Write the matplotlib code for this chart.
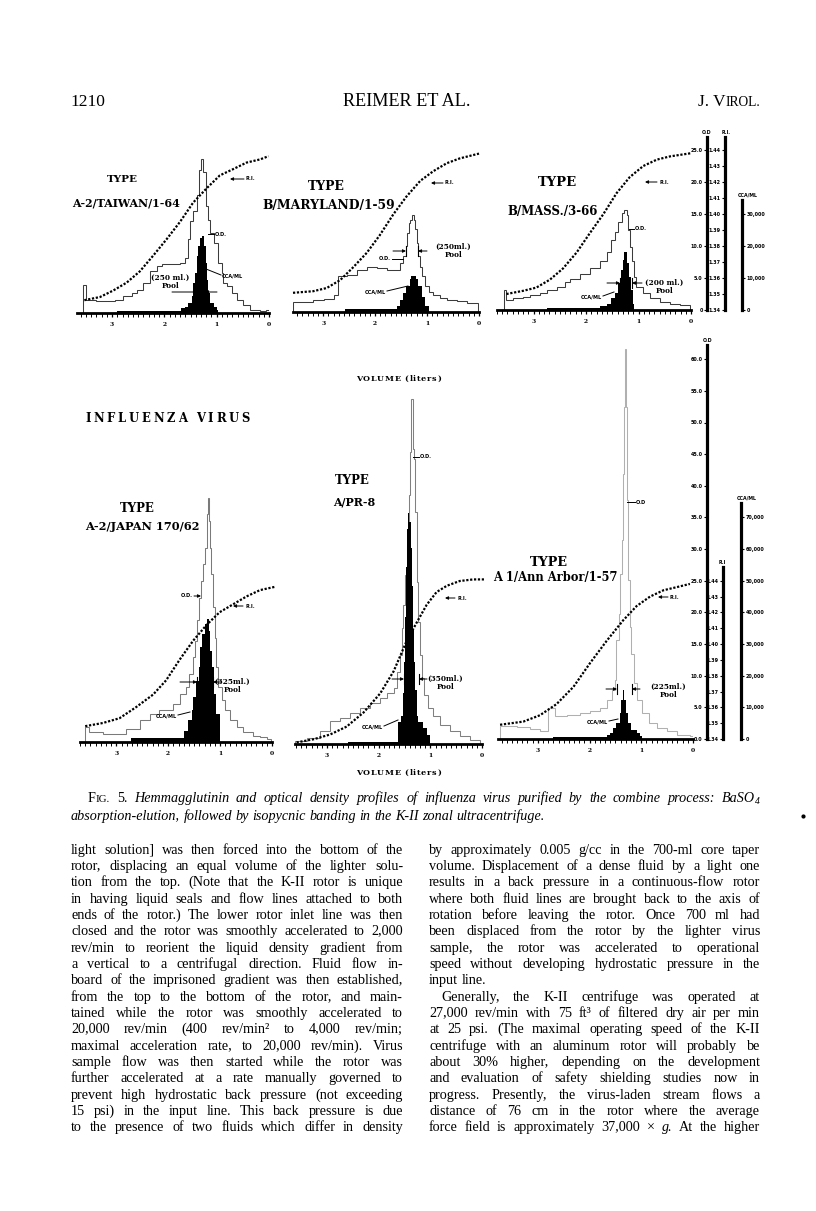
import numpy as np
import matplotlib
matplotlib.use("Agg")
import matplotlib.pyplot as plt
from matplotlib.ticker import MultipleLocator, FixedLocator
from matplotlib.font_manager import FontProperties
from matplotlib.lines import Line2D
from matplotlib.patches import FancyArrowPatch

# ---------------------------------------------------------------- data
# volumes in liters, O.D. in O.D. units, hemagglutinin in CCA/ml, R.I. refractive index
vol_ticks = [3, 2, 1, 0]
vol_tick_labels = ["3", "2", "1", "0"]

# Panel 1  A-2/TAIWAN/1-64
p1_od_edges = [3.56, 3.50, 3.30, 3.10, 2.94, 2.79, 2.62, 2.53, 2.40, 2.28, 2.15, 2.05, 1.70, 1.61,
               1.54, 1.51, 1.45, 1.38, 1.33, 1.30, 1.26, 1.21, 1.16, 1.13, 1.06, 0.97, 0.90, 0.87,
               0.81, 0.71, 0.62, 0.49, 0.36, 0.17, 0.06, 0.0]
p1_od = [4.3, 2.0, 1.9, 1.8, 2.1, 2.6, 3.2, 3.6, 4.7, 6.5, 7.3, 7.6, 7.8, 8.6, 11.5, 14.3, 15.9,
         18.5, 22.4, 24.0, 22.0, 16.7, 14.6, 12.5, 10.9, 7.8, 6.3, 4.7, 4.2, 3.1, 2.1, 1.3, 0.5,
         0.3, 0.5]
p1_cca_edges = [2.90, 1.69, 1.61, 1.54, 1.48, 1.45, 1.41, 1.38, 1.35, 1.32, 1.29, 1.24, 1.21,
                1.19, 1.16, 1.13, 1.06, 1.00, 0.97]
p1_cca = [600, 1600, 2000, 3200, 5200, 9400, 12600, 17800, 20800, 23400, 24000, 20800, 15600,
          10400, 6200, 3200, 2000, 1000]
p1_ri_vol = [3.53, 3.23, 2.98, 2.72, 2.47, 2.21, 1.96, 1.70, 1.45, 1.19, 0.94, 0.68, 0.43, 0.17, 0.01]
p1_ri = [1.348, 1.350, 1.354, 1.359, 1.366, 1.376, 1.386, 1.397, 1.409, 1.418, 1.426, 1.430,
         1.434, 1.436, 1.438]

# Panel 2  B/MARYLAND/1-59
p2_od_edges = [3.58, 3.19, 2.99, 2.80, 2.71, 2.54, 2.35, 2.16, 1.97, 1.78, 1.58, 1.52, 1.46, 1.40,
               1.38, 1.35, 1.33, 1.29, 1.26, 1.23, 1.20, 1.17, 1.13, 1.10, 1.04, 0.97, 0.88, 0.75,
               0.62, 0.43, 0.24, 0.01]
p2_od = [1.5, 1.9, 2.0, 2.7, 5.6, 5.8, 6.6, 7.1, 6.9, 6.6, 6.6, 7.7, 8.7, 10.3, 12.3, 13.9, 14.4,
         15.2, 14.4, 12.9, 10.8, 8.7, 7.1, 5.6, 4.0, 3.2, 2.7, 2.2, 1.9, 1.7, 1.4]
p2_cca_edges = [2.57, 1.58, 1.52, 1.46, 1.40, 1.33, 1.31, 1.26, 1.21, 1.17, 1.10, 1.04, 0.97]
p2_cca = [800, 1800, 3800, 6000, 8000, 10200, 11200, 11400, 10200, 8000, 4800, 1800]
p2_ri_vol = [3.58, 3.19, 2.93, 2.67, 2.42, 2.16, 1.91, 1.65, 1.40, 1.13, 0.88, 0.62, 0.37, 0.0]
p2_ri = [1.352, 1.353, 1.355, 1.360, 1.368, 1.377, 1.388, 1.401, 1.412, 1.422, 1.428, 1.433,
         1.436, 1.439]

# Panel 3  B/MASS./3-66
p3_od_edges = [3.57, 3.52, 3.39, 3.20, 3.07, 2.88, 2.75, 2.56, 2.40, 2.31, 2.12, 1.93, 1.74, 1.61,
               1.52, 1.45, 1.39, 1.32, 1.28, 1.23, 1.20, 1.17, 1.13, 1.09, 1.04, 0.91, 0.78, 0.59,
               0.40, 0.21, 0.02]
p3_od = [3.2, 1.6, 1.8, 2.1, 2.3, 2.6, 3.1, 3.6, 4.4, 4.9, 5.7, 6.5, 7.6, 9.1, 10.9, 12.2, 13.8,
         15.1, 15.7, 14.8, 12.5, 9.9, 7.6, 5.2, 3.6, 2.6, 1.8, 1.3, 1.0, 0.8]
p3_cca_edges = [2.75, 1.74, 1.61, 1.52, 1.45, 1.39, 1.34, 1.30, 1.27, 1.23, 1.18, 1.15, 1.11, 1.09]
p3_cca = [600, 1200, 2000, 3600, 5200, 8400, 12600, 15600, 18200, 14600, 10400, 6200, 2000]
p3_ri_vol = [3.52, 3.20, 2.95, 2.69, 2.44, 2.18, 1.93, 1.67, 1.42, 1.17, 0.91, 0.65, 0.40, 0.0]
p3_ri = [1.350, 1.352, 1.354, 1.359, 1.366, 1.376, 1.388, 1.400, 1.413, 1.423, 1.430, 1.434,
         1.436, 1.438]

# Panel 4  A-2/JAPAN 170/62
p4_od_edges = [3.60, 3.52, 3.26, 3.00, 2.81, 2.55, 2.36, 2.17, 1.91, 1.78, 1.65, 1.59, 1.52, 1.49,
               1.44, 1.40, 1.36, 1.33, 1.30, 1.26, 1.25, 1.23, 1.21, 1.19, 1.17, 1.14, 1.10, 1.07,
               1.04, 0.97, 0.91, 0.81, 0.68, 0.55, 0.36, 0.23, 0.10, 0.02]
p4_od = [2.4, 1.6, 1.3, 1.2, 2.1, 3.4, 4.5, 5.0, 6.0, 7.6, 8.7, 10.8, 13.4, 16.0, 19.2, 22.8, 25.5,
         28.1, 30.7, 33.3, 36.0, 38.6, 34.9, 30.7, 26.5, 21.3, 16.5, 11.8, 8.7, 6.6, 5.0, 3.4,
         2.4, 1.6, 1.0, 0.8, 0.5]
p4_cca_edges = [2.71, 1.70, 1.62, 1.55, 1.52, 1.47, 1.40, 1.38, 1.34, 1.30, 1.26, 1.21, 1.19, 1.15,
                1.12, 1.07, 1.01, 1.00]
p4_cca = [1200, 3600, 6800, 10000, 14200, 19400, 23600, 30000, 34200, 37200, 38800, 35200, 28800,
          23600, 15200, 9000, 2600]
p4_ri_vol = [3.60, 3.26, 2.94, 2.62, 2.29, 2.04, 1.78, 1.52, 1.26, 1.01, 0.75, 0.49, 0.23, -0.05]
p4_ri = [1.350, 1.352, 1.355, 1.362, 1.370, 1.379, 1.392, 1.404, 1.414, 1.422, 1.427, 1.432,
         1.436, 1.438]

# Panel 5  A/PR-8
p5_od_edges = [3.62, 3.39, 3.13, 2.94, 2.75, 2.55, 2.36, 2.16, 1.97, 1.84, 1.71, 1.65, 1.59, 1.55,
               1.52, 1.49, 1.46, 1.42, 1.39, 1.37, 1.34, 1.31, 1.30, 1.26, 1.23, 1.20, 1.17, 1.12,
               1.04, 0.94, 0.81, 0.62, 0.43, 0.23, 0.04]
p5_od = [0.4, 0.9, 2.0, 3.6, 4.1, 4.9, 5.7, 6.5, 7.2, 8.0, 8.8, 11.4, 14.1, 18.3, 21.9, 26.7, 31.4,
         39.3, 46.1, 54.5, 46.6, 45.0, 36.6, 25.6, 19.3, 14.1, 10.4, 7.8, 5.7, 4.4, 3.0, 2.0, 1.2,
         0.7]
p5_cca_edges = [2.60, 1.63, 1.57, 1.53, 1.51, 1.49, 1.47, 1.45, 1.43, 1.41, 1.38, 1.35, 1.33, 1.31,
                1.29, 1.26, 1.23, 1.14, 1.07, 1.01]
p5_cca = [600, 7000, 9000, 16000, 26000, 40000, 56000, 68000, 73000, 70000, 62000, 50000, 36000,
          26000, 17000, 9000, 7000, 5000, 3000]
p5_ri_vol = [3.59, 3.26, 2.94, 2.62, 2.29, 1.97, 1.71, 1.46, 1.26, 1.07, 0.88, 0.68, 0.43, 0.17, -0.06]
p5_ri = [1.341, 1.343, 1.346, 1.351, 1.360, 1.372, 1.386, 1.405, 1.417, 1.428, 1.436, 1.440,
         1.443, 1.444, 1.444]

# Panel 6  A 1/Ann Arbor/1-57
p6_od_edges = [3.73, 3.41, 3.15, 2.96, 2.80, 2.67, 2.44, 2.19, 1.99, 1.80, 1.67, 1.57, 1.51, 1.48,
               1.44, 1.41, 1.38, 1.36, 1.33, 1.31, 1.29, 1.28, 1.25, 1.22, 1.19, 1.15, 1.09, 0.99,
               0.86, 0.70, 0.51, 0.31, 0.06, 0.0]
p6_od = [2.0, 1.9, 1.6, 1.2, 4.9, 3.6, 3.8, 4.1, 4.4, 4.9, 6.2, 7.8, 9.3, 15.6, 19.8, 26.1, 31.4,
         41.9, 52.4, 61.6, 52.4, 37.7, 25.1, 17.7, 13.5, 8.8, 6.2, 4.1, 2.5, 1.7, 1.2, 0.7, 0.4]
p6_cca_edges = [2.70, 1.67, 1.61, 1.54, 1.48, 1.42, 1.39, 1.36, 1.33, 1.29, 1.26, 1.19, 1.09, 1.03, 0.99]
p6_cca = [600, 1400, 2000, 3400, 5000, 8200, 12400, 15600, 12400, 8200, 5000, 3000, 1800, 1000]
p6_ri_vol = [3.73, 3.28, 2.96, 2.64, 2.31, 1.99, 1.67, 1.35, 1.09, 0.83, 0.57, 0.31, 0.06]
p6_ri = [1.349, 1.351, 1.355, 1.362, 1.373, 1.388, 1.402, 1.415, 1.424, 1.430, 1.434, 1.436, 1.438]

panel_titles = ["A-2/TAIWAN/1-64", "B/MARYLAND/1-59", "B/MASS./3-66",
                "A-2/JAPAN 170/62", "A/PR-8", "A 1/Ann Arbor/1-57"]
pool_labels = ["250 ml.", "250ml.", "200 ml.", "325ml.", "350ml.", "225ml."]

# right-hand scales
top_od_ticks = [0, 5, 10, 15, 20, 25]
top_od_labels = ["0", "5.0", "10.0", "15.0", "20.0", "25.0"]
bot_od_ticks = [0, 5, 10, 15, 20, 25, 30, 35, 40, 45, 50, 55, 60]
bot_od_labels = ["0.0", "5.0", "10.0", "15.0", "20.0", "25.0", "30.0", "35.0", "40.0", "45.0",
                 "50.0", "55.0", "60.0"]
ri_ticks = [1.34, 1.35, 1.36, 1.37, 1.38, 1.39, 1.40, 1.41, 1.42, 1.43, 1.44]
ri_labels = ["1.34", "1.35", "1.36", "1.37", "1.38", "1.39", "1.40", "1.41", "1.42", "1.43", "1.44"]
top_cca_ticks = [0, 10000, 20000, 30000]
top_cca_labels = ["0", "10,000", "20,000", "30,000"]
bot_cca_ticks = [0, 10000, 20000, 30000, 40000, 50000, 60000, 70000]
bot_cca_labels = ["0", "10,000", "20,000", "30,000", "40,000", "50,000", "60,000", "70,000"]

# common vertical scale: 1 O.D. unit == 0.004 R.I. == 2000 CCA/ml
RI_PER_OD = 0.004
CCA_PER_OD = 2000.0
RI_BASE = 1.34

# ---------------------------------------------------------------- page text
header_left, header_mid, header_right = "1210", "REIMER ET AL.", "J. VIROL."

left_col = [
    "light solution] was then forced into the bottom of the",
    "rotor, displacing an equal volume of the lighter solu-",
    "tion from the top. (Note that the K-II rotor is unique",
    "in having liquid seals and flow lines attached to both",
    "ends of the rotor.) The lower rotor inlet line was then",
    "closed and the rotor was smoothly accelerated to 2,000",
    "rev/min to reorient the liquid density gradient from",
    "a vertical to a centrifugal direction. Fluid flow in-",
    "board of the imprisoned gradient was then established,",
    "from the top to the bottom of the rotor, and main-",
    "tained while the rotor was smoothly accelerated to",
    "20,000 rev/min (400 rev/min\u00b2 to 4,000 rev/min;",
    "maximal acceleration rate, to 20,000 rev/min). Virus",
    "sample flow was then started while the rotor was",
    "further accelerated at a rate manually governed to",
    "prevent high hydrostatic back pressure (not exceeding",
    "15 psi) in the input line. This back pressure is due",
    "to the presence of two fluids which differ in density",
]
right_col = [
    "by approximately 0.005 g/cc in the 700-ml core taper",
    "volume. Displacement of a dense fluid by a light one",
    "results in a back pressure in a continuous-flow rotor",
    "where both fluid lines are brought back to the axis of",
    "rotation before leaving the rotor. Once 700 ml had",
    "been displaced from the rotor by the lighter virus",
    "sample, the rotor was accelerated to operational",
    "speed without developing hydrostatic pressure in the",
    "input line.",
    "Generally, the K-II centrifuge was operated at",
    "27,000 rev/min with 75 ft\u00b3 of filtered dry air per min",
    "at 25 psi. (The maximal operating speed of the K-II",
    "centrifuge with an aluminum rotor will probably be",
    "about 30% higher, depending on the development",
    "and evaluation of safety shielding studies now in",
    "progress. Presently, the virus-laden stream flows a",
    "distance of 76 cm in the rotor where the average",
    "force field is approximately 37,000 \u00d7 ~g. At the higher",
]
caption_1 = "FIG. ^5. Hemmagglutinin and optical density profiles of influenza virus purified by the combine process: BaSO4"
caption_2 = "absorption-elution, followed by isopycnic banding in the K-II zonal ultracentrifuge."

# ---------------------------------------------------------------- figure
W, H = 816, 1211
fig = plt.figure(figsize=(W / 100, H / 100), dpi=100)
fig.patch.set_facecolor("white")
renderer = fig.canvas.get_renderer()

SERIF = "Liberation Serif"
SLAB = "DejaVu Serif"
SANS = "DejaVu Sans"


def fx(x):
    return x / W


def fy(y):
    return 1 - y / H


def metrics(s, size, style="normal", family=SERIF, weight="normal"):
    fp = FontProperties(family=family, size=size, style=style, weight=weight)
    return renderer.get_text_width_height_descent(s, fp, ismath=False)


def tw(s, size, style="normal", family=SERIF, weight="normal"):
    return metrics(s, size, style, family, weight)[0]


def put_baseline(x, ybase, s, size, style="normal", family=SERIF, weight="normal"):
    """Place text so that its baseline falls exactly on pixel row ybase (from top)."""
    w, h, d = metrics(s, size, style, family, weight)
    T = round(ybase)
    yb = T + np.floor(h + 1e-9) - np.floor(h - d + 1e-9) - d
    fig.text(fx(x), fy(yb), s, fontsize=size, family=family, style=style, weight=weight,
             ha="left", va="baseline", color="black")


def segs(tok, style):
    if tok == "FIG.":
        return [("F", 1.0, 0, "normal"), ("IG.", 0.78, 0, "normal")]
    if tok == "BaSO4":
        return [("BaSO", 1.0, 0, style), ("4", 0.68, -2.5, style)]
    if tok.startswith("^"):
        return [(tok[1:], 1.0, 0, "normal")]
    if tok.startswith("~"):
        return [(tok[1:], 1.0, 0, "italic")]
    return [(tok, 1.0, 0, style)]


def word_width(tok, size, style):
    return sum(tw(t, size * f, st) for t, f, dy, st in segs(tok, style))


def natural_width(line, size, style):
    words = line.split(" ")
    sp = tw("a a", size, style) - tw("aa", size, style)
    return sum(word_width(w, size, style) for w in words) + sp * (len(words) - 1)


def draw_line(line, x0, x1, ybase, size, style, justify=True):
    words = line.split(" ")
    widths = [word_width(w, size, style) for w in words]
    sp = tw("a a", size, style) - tw("aa", size, style)
    if justify and len(words) > 1:
        gap = (x1 - x0 - sum(widths)) / (len(words) - 1)
    else:
        gap = sp
    x = x0
    for w, wd in zip(words, widths):
        xx = x
        for t, f, dy, st in segs(w, style):
            put_baseline(xx, ybase - dy, t, size * f, st)
            xx += tw(t, size * f, st)
        x += wd + gap


def fit_text(x0, x1, y, s, family=SLAB, weight="bold", style="normal", va="center"):
    w10 = tw(s, 10, style, family, weight)
    size = 10 * (x1 - x0) / w10
    fig.text(fx(x0), fy(y), s, fontsize=size, family=family, weight=weight, style=style,
             ha="left", va=va, color="black")
    return size


def spaced_text(x0, x1, y, s, size, family=SLAB, weight="bold"):
    spw = tw("a a", size, "normal", family, weight) - tw("aa", size, "normal", family, weight)
    ws = [tw(c, size, "normal", family, weight) if c != " " else spw for c in s]
    extra = (x1 - x0 - sum(ws)) / (len(s) - 1)
    x = x0
    for c, w in zip(s, ws):
        if c != " ":
            fig.text(fx(x), fy(y), c, fontsize=size, family=family, weight=weight,
                     ha="left", va="baseline", color="black")
        x += w + extra


def small(x, y, s, ha="left", size=3.6):
    fig.text(fx(x), fy(y), s, fontsize=size, family=SANS, weight="bold", ha=ha, va="center",
             color="black")


def seg_line(x0, y0, x1, y1, lw=0.7):
    fig.add_artist(Line2D([fx(x0), fx(x1)], [fy(y0), fy(y1)], lw=lw, color="black",
                          transform=fig.transFigure))


def arrow(x0, y0, x1, y1):
    fig.add_artist(FancyArrowPatch((fx(x0), fy(y0)), (fx(x1), fy(y1)), transform=fig.transFigure,
                                   arrowstyle="-|>", mutation_scale=4.5, lw=0.7, color="black",
                                   shrinkA=0, shrinkB=0))


# ---------------------------------------------------------------- panels
# geometry: x of left end, x of 0 liters, y of axis line, px per O.D. unit, max volume, top (O.D.)
geoms = [
    (77, 269, 313, 6.40, 3.67, 28),
    (293, 479, 312, 6.40, 3.58, 28),
    (497, 691, 310, 6.40, 3.70, 28),
    (80, 272, 742, 6.33, 3.70, 66),
    (295, 482, 744, 6.33, 3.62, 66),
    (498, 693, 739, 6.33, 3.77, 66),
]
series = [
    (p1_od_edges, p1_od, p1_cca_edges, p1_cca, p1_ri_vol, p1_ri),
    (p2_od_edges, p2_od, p2_cca_edges, p2_cca, p2_ri_vol, p2_ri),
    (p3_od_edges, p3_od, p3_cca_edges, p3_cca, p3_ri_vol, p3_ri),
    (p4_od_edges, p4_od, p4_cca_edges, p4_cca, p4_ri_vol, p4_ri),
    (p5_od_edges, p5_od, p5_cca_edges, p5_cca, p5_ri_vol, p5_ri),
    (p6_od_edges, p6_od, p6_cca_edges, p6_cca, p6_ri_vol, p6_ri),
]
od_colors = ["#3c3c3c", "#3c3c3c", "#3c3c3c", "#7a7a7a", "#808080", "#b0b0b0"]

for (xl, x0, ya, ppu, xmax, ytop), (ode, odv, cce, ccv, rix, riy), odc in zip(geoms, series, od_colors):
    ax = fig.add_axes([fx(xl), fy(ya), (x0 - xl) / W, ytop * ppu / H])
    ax.patch.set_alpha(0)
    ax.set_xlim(xmax, 0)
    ax.set_ylim(0, ytop)
    for s in ["top", "right", "left"]:
        ax.spines[s].set_visible(False)
    ax.spines["bottom"].set_linewidth(2.0)
    ax.set_yticks([])
    ax.xaxis.set_major_locator(FixedLocator(vol_ticks))
    ax.set_xticklabels(vol_tick_labels)
    ax.xaxis.set_minor_locator(MultipleLocator(0.1))
    ax.tick_params(axis="x", which="major", length=3.2, width=0.9, pad=3.2, labelsize=4.3)
    ax.tick_params(axis="x", which="minor", length=2.6, width=0.7)
    for lab in ax.get_xticklabels():
        lab.set_fontweight("bold")
        lab.set_family(SLAB)
    axc = ax.twinx()
    axc.set_ylim(0, ytop * CCA_PER_OD)
    axc.axis("off")
    axr = ax.twinx()
    axr.set_ylim(RI_BASE, RI_BASE + ytop * RI_PER_OD)
    axr.axis("off")
    ax.stairs(odv, ode, baseline=0, fill=False, color=odc, lw=0.75, zorder=2)
    axc.stairs(ccv, cce, baseline=0, fill=True, color="black", lw=0, zorder=3)
    axr.plot(rix, riy, color="black", lw=1.6, linestyle=(0, (1.0, 0.75)),
             dash_capstyle="butt", clip_on=False, zorder=4)


# ---------------------------------------------------------------- right-hand scales
def scale_axis(x, y0, ytop_px, ppu, lo, per_od, ticks, labels, side, title, tx, ty):
    span = (y0 - ytop_px) / ppu
    a = fig.add_axes([fx(x), fy(y0), 0.3 / W, (y0 - ytop_px) / H])
    a.patch.set_alpha(0)
    a.set_ylim(lo, lo + span * per_od)
    for s in a.spines.values():
        s.set_visible(False)
    a.spines["left"].set_visible(True)
    a.spines["left"].set_linewidth(2.3)
    a.set_xticks([])
    a.set_yticks(ticks)
    a.set_yticklabels(labels)
    if side == "left":
        a.tick_params(axis="y", left=True, right=False, labelleft=True, labelright=False,
                      length=2.5, width=0.8, pad=0.6, labelsize=3.5)
    else:
        a.tick_params(axis="y", left=False, right=True, labelleft=False, labelright=True,
                      length=2.5, width=0.8, pad=0.6, labelsize=3.5)
    for lab in a.get_yticklabels():
        lab.set_fontweight("bold")
        lab.set_family(SANS)
    small(tx, ty, title, ha="center", size=3.4)


scale_axis(707, 310, 137, 6.40, 0, 1.0, top_od_ticks, top_od_labels, "left", "O.D", 707, 132)
scale_axis(725, 310, 137, 6.40, RI_BASE, RI_PER_OD, ri_ticks, ri_labels, "left", "R.I.", 726, 132)
scale_axis(742, 310, 200, 6.40, 0, CCA_PER_OD, top_cca_ticks, top_cca_labels, "right", "CCA/ML", 748, 195)
scale_axis(707, 739, 345, 6.33, 0, 1.0, bot_od_ticks, bot_od_labels, "left", "O.D", 708, 341)
scale_axis(723, 739, 567, 6.33, RI_BASE, RI_PER_OD, ri_ticks, ri_labels, "left", "R.I", 722, 562)
scale_axis(741, 739, 503, 6.33, 0, CCA_PER_OD, bot_cca_ticks, bot_cca_labels, "right", "CCA/ML", 747, 498)

# ---------------------------------------------------------------- panel labels
type_pos = [(107, 138, 180), (308, 345, 187), (538, 577, 182),
            (120, 155, 508), (335, 370, 481), (530, 568, 562)]
title_pos = [(72, 180, 203), (262, 395, 205), (507, 598, 212),
             (85, 200, 526), (333, 375, 502), (493, 618, 578)]
for (a, b, y) in type_pos:
    fit_text(a, b, y, "TYPE")
for (a, b, y), t in zip(title_pos, panel_titles):
    fit_text(a, b, y, t)

# R.I. arrows (head, tail, label x, y)
for hx, tx_, lx, y in [(230, 244, 246, 179), (431, 443, 445, 183), (645, 657, 659, 182),
                        (233, 243, 245, 606), (445, 455, 457, 598), (658, 668, 670, 597)]:
    arrow(tx_, y, hx, y)
    small(lx, y, "R.I.")

# O.D. leaders
seg_line(208, 234, 214, 234); small(215, 234, "O.D.")
seg_line(392, 259, 403, 259); small(391, 259, "O.D.", ha="right")
seg_line(629, 229, 634, 229); small(635, 229, "O.D.")
arrow(194, 596, 201, 596); small(193, 596, "O.D.", ha="right")
seg_line(413, 457, 419, 457); small(420, 457, "O.D.")
seg_line(627, 502, 635, 502); small(636, 502, "O.D")

# CCA/ml leaders
seg_line(206, 269, 221, 275); small(222, 276, "CCA/ML")
seg_line(387, 291, 408, 286); small(386, 292, "CCA/ML", ha="right")
seg_line(603, 296, 614, 292); small(602, 297, "CCA/ML", ha="right")
seg_line(178, 715, 190, 712); small(177, 716, "CCA/ML", ha="right")
seg_line(384, 726, 398, 720); small(383, 727, "CCA/ML", ha="right")
seg_line(609, 721, 618, 719); small(608, 722, "CCA/ML", ha="right")

# pooled fractions: (text centre x, text y, arrow y, left arrow from, left bar, right bar, right arrow from)
pools = [(170, 278, 292, 172, 197, 205, 217),
         (453, 247, 251, 393, 406, 418, 427),
         (664, 283, 283, 607, 620, 632, 642),
         (232, 682, 682, 180, 197, 213, 221),
         (445, 679, 679, 392, 404, 419, 427),
         (668, 687, 689, 606, 617, 632, 640)]
for i, ((cx, ty, ay, la, lb, rb, ra), lab) in enumerate(zip(pools, pool_labels)):
    fig.text(fx(cx), fy(ty), "(" + lab + ")", fontsize=5.3, family=SLAB, weight="bold",
             ha="center", va="center")
    fig.text(fx(cx + 1), fy(ty + 8), "Pool", fontsize=5.3, family=SLAB, weight="bold",
             ha="center", va="center")
    arrow(la, ay, lb, ay)
    arrow(ra, ay, rb, ay)
    if i > 0:
        seg_line(lb, ay - 5, lb, ay + 5, lw=0.8)
        seg_line(rb, ay - 5, rb, ay + 5, lw=0.8)

# axis titles
spaced_text(356, 441, 381, "VOLUME (liters)", 5.8)
spaced_text(356, 441, 775, "VOLUME (liters)", 5.8)
spaced_text(85, 250, 422, "INFLUENZA VIRUS", 8.4)

# ---------------------------------------------------------------- running head
hs = 12.5
put_baseline(70, 106, header_left, hs)
mid_size = 10 * (471 - 343) / tw(header_mid, 10)
put_baseline(343, 106, header_mid, mid_size)
jr = tw("J. V", hs) + tw("IROL.", hs * 0.78)
put_baseline(760 - jr, 106, "J. V", hs)
put_baseline(760 - jr + tw("J. V", hs), 106, "IROL.", hs * 0.78)

# ---------------------------------------------------------------- caption and body text
col_l = (71, 403)
col_r = (429, 760)
body_size = 10 * min(min((col_l[1] - col_l[0]) / natural_width(l, 10, "normal") for l in left_col),
                     min((col_r[1] - col_r[0]) / natural_width(l, 10, "normal")
                         for i, l in enumerate(right_col) if i != 8))
body_size = min(body_size, 10.2)
cap_size = min(body_size, 10 * (760 - 88) / natural_width(caption_1, 10, "italic"))

draw_line(caption_1, 88, 760, 802, cap_size, "italic", justify=True)
draw_line(caption_2, 71, 760, 820, cap_size, "italic", justify=False)
fig.add_artist(Line2D([fx(803)], [fy(816)], marker="o", ms=2.0, color="black", lw=0,
                      transform=fig.transFigure))

y0, pitch = 853.5, 16.35
for i, line in enumerate(left_col):
    draw_line(line, col_l[0], col_l[1], y0 + i * pitch, body_size, "normal", justify=True)
for i, line in enumerate(right_col):
    if i == 8:
        draw_line(line, col_r[0], col_r[1], y0 + i * pitch, body_size, "normal", justify=False)
    elif i == 9:
        draw_line(line, col_r[0] + 12, col_r[1], y0 + i * pitch, body_size, "normal", justify=True)
    else:
        draw_line(line, col_r[0], col_r[1], y0 + i * pitch, body_size, "normal", justify=True)

fig.savefig("out.png", dpi=100, facecolor="white")
